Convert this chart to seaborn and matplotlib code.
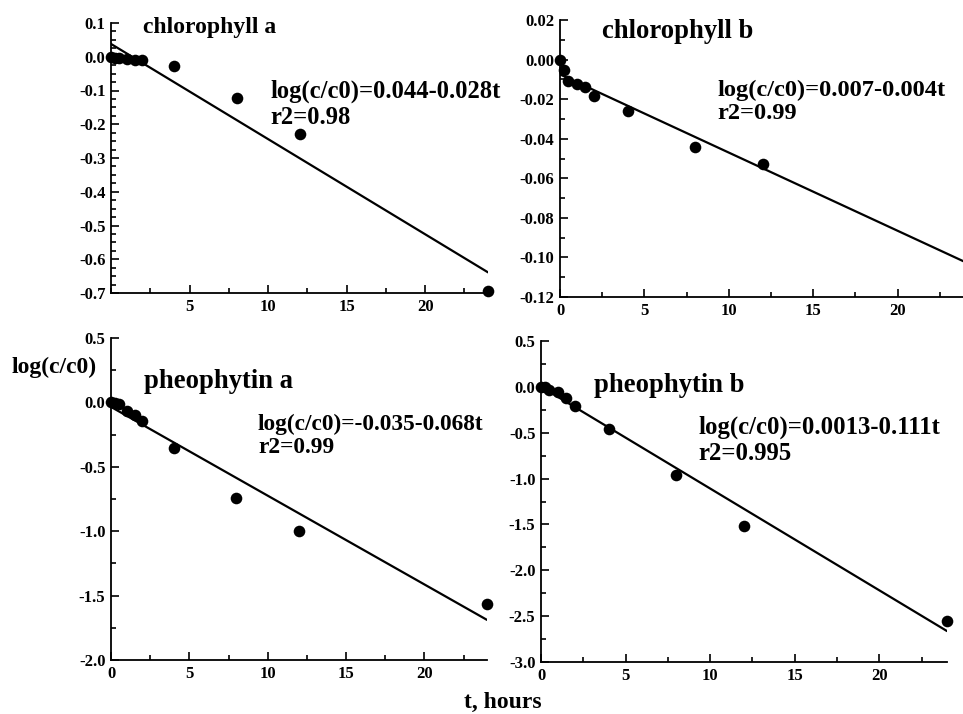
import matplotlib
matplotlib.use("Agg")
import matplotlib.pyplot as plt
import seaborn as sns
import pandas as pd
from matplotlib.ticker import MultipleLocator, FormatStrFormatter

# sampling times, hours
t_chl_a = [0, 0.25, 0.5, 1, 1.5, 2, 4, 8, 12, 24]
t_chl_b = [0, 0.25, 0.5, 1, 1.5, 2, 4, 8, 12]
t_phe_a = [0, 0.25, 0.5, 1, 1.5, 2, 4, 8, 12, 24]
t_phe_b = [0, 0.25, 0.5, 1, 1.5, 2, 4, 8, 12, 24]

# log(c/c0)
y_chl_a = [0.0, -0.003, -0.005, -0.008, -0.009, -0.011, -0.028, -0.121, -0.23, -0.695]
y_chl_b = [0.0, -0.0053, -0.0107, -0.0124, -0.0137, -0.0184, -0.0262, -0.0441, -0.0526]
y_phe_a = [0.0, -0.005, -0.012, -0.07, -0.10, -0.148, -0.355, -0.744, -0.995, -1.567]
y_phe_b = [0.0, 0.0, -0.036, -0.054, -0.12, -0.207, -0.457, -0.961, -1.513, -2.557]

# fitted lines (intercept, slope) as drawn
fit_chl_a = (0.038, -0.0282)
fit_chl_b = (-0.0075, -0.00395)
fit_phe_a = (-0.035, -0.0689)
fit_phe_b = (0.0013, -0.111)

titles = ["chlorophyll a", "chlorophyll b", "pheophytin a", "pheophytin b"]
equations = ["log(c/c0)=0.044-0.028t\nr2=0.98",
             "log(c/c0)=0.007-0.004t\nr2=0.99",
             "log(c/c0)=-0.035-0.068t\nr2=0.99",
             "log(c/c0)=0.0013-0.111t\nr2=0.995"]

sns.set_style("ticks")
plt.rcParams["font.family"] = ["Liberation Serif", "DejaVu Serif"]
plt.rcParams["font.weight"] = "bold"
plt.rcParams["text.color"] = "black"
plt.rcParams["axes.edgecolor"] = "black"
plt.rcParams["xtick.color"] = "black"
plt.rcParams["ytick.color"] = "black"

fig = plt.figure(figsize=(9.63, 7.14), dpi=100)
W, H = 963, 714

def box(l, r, t, b):
    return [l / W, 1 - b / H, (r - l) / W, (b - t) / H]

panels = [
    dict(t=t_chl_a, y=y_chl_a, fit=fit_chl_a, pos=box(111, 488, 23, 293),
         ylim=(-0.7, 0.1), ymaj=0.1, ymin=0.025, yfmt="%.1f", xt=[5, 10, 15, 20],
         title=(143, 28), tsize=17, eq=(270, 104), esize=17.7),
    dict(t=t_chl_b, y=y_chl_b, fit=fit_chl_b, pos=box(560, 965, 20, 297),
         ylim=(-0.12, 0.02), ymaj=0.02, ymin=0.01, yfmt="%.2f", xt=[0, 5, 10, 15, 20],
         title=(602, 32), tsize=19.2, eq=(717, 102), esize=17.6),
    dict(t=t_phe_a, y=y_phe_a, fit=fit_phe_a, pos=box(111, 487, 338, 660),
         ylim=(-2.0, 0.5), ymaj=0.5, ymin=0.25, yfmt="%.1f", xt=[0, 5, 10, 15, 20],
         title=(144, 381), tsize=19.2, eq=(258, 436), esize=16.8),
    dict(t=t_phe_b, y=y_phe_b, fit=fit_phe_b, pos=box(541, 947, 341, 662),
         ylim=(-3.0, 0.5), ymaj=0.5, ymin=0.25, yfmt="%.1f", xt=[0, 5, 10, 15, 20],
         title=(594, 386), tsize=19.2, eq=(698, 440), esize=17.8),
]

for p, title, eq in zip(panels, titles, equations):
    ax = fig.add_axes(p["pos"])
    df = pd.DataFrame({"t": p["t"], "y": p["y"]})
    a, b = p["fit"]
    line = pd.DataFrame({"t": [0, 24], "y": [a, a + b * 24]})
    sns.lineplot(data=line, x="t", y="y", ax=ax, color="black", linewidth=1.6)
    sns.scatterplot(data=df, x="t", y="y", ax=ax, color="black", s=70,
                    edgecolor="black", linewidth=0, clip_on=False, zorder=3)
    ax.set_xlim(0, 24)
    ax.set_ylim(*p["ylim"])
    ax.set_xticks(p["xt"])
    ax.xaxis.set_minor_locator(MultipleLocator(2.5))
    ax.yaxis.set_major_locator(MultipleLocator(p["ymaj"]))
    ax.yaxis.set_minor_locator(MultipleLocator(p["ymin"]))
    ax.yaxis.set_major_formatter(FormatStrFormatter(p["yfmt"]))
    ax.set_xlabel("")
    ax.set_ylabel("")
    ax.tick_params(which="both", direction="in", width=1.2, labelsize=12, pad=4,
                   colors="black")
    ax.tick_params(which="major", length=6)
    ax.tick_params(which="minor", length=3.5)
    for lab in ax.get_xticklabels() + ax.get_yticklabels():
        lab.set_fontweight("bold")
    for s in ["top", "right"]:
        ax.spines[s].set_visible(False)
    for s in ["left", "bottom"]:
        ax.spines[s].set_linewidth(1.3)
        ax.spines[s].set_color("black")
    ax.patch.set_alpha(0)
    fig.text(p["title"][0] / W, 1 - p["title"][1] / H, title, fontsize=p["tsize"],
             fontweight="bold", va="center", ha="left", color="black")
    fig.text(p["eq"][0] / W, 1 - p["eq"][1] / H, eq, fontsize=p["esize"],
             fontweight="bold", va="center", ha="left", linespacing=1.15,
             color="black")

fig.text(12 / W, 1 - 367 / H, "log(c/c0)", fontsize=17, fontweight="bold",
         va="center", ha="left", color="black")
fig.text(503 / W, 1 - 702 / H, "t, hours", fontsize=17, fontweight="bold",
         va="center", ha="center", color="black")

fig.savefig("out.png", dpi=100)
